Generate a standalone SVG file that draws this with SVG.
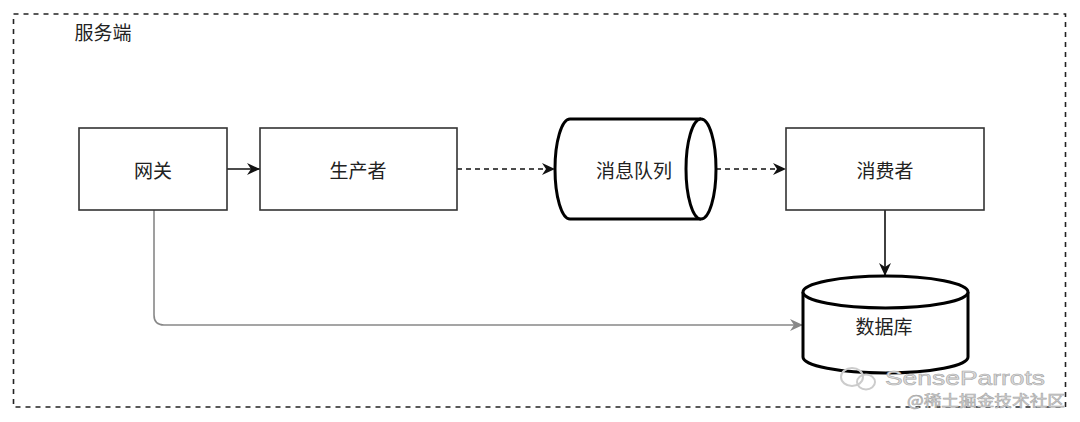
<svg xmlns="http://www.w3.org/2000/svg" width="1080" height="422" viewBox="0 0 1080 422">
  <style>
    .lbl { font-family: "Noto Sans CJK SC", "Liberation Sans", sans-serif; font-size: 19px; fill: #222; text-anchor: middle; dominant-baseline: central; }
    .box { fill: #fff; stroke: #333; stroke-width: 1.6; }
    .cyl { fill: #fff; stroke: #000; stroke-width: 3; }
    .edge { fill: none; stroke: #111; stroke-width: 1.6; }
    .dash { stroke-dasharray: 5 4; }
    .wm { font-family: "Liberation Sans", "Noto Sans CJK SC", sans-serif; fill: #dcdcdc; stroke: #a8a8a8; stroke-width: 0.6; }
  </style>
  <defs>
    <marker id="ah" markerUnits="userSpaceOnUse" markerWidth="14" markerHeight="12" refX="13" refY="6" orient="auto">
      <path d="M0,0 L13,6 L0,12 L4,6 Z" fill="#111"/>
    </marker>
    <marker id="ahg" markerUnits="userSpaceOnUse" markerWidth="14" markerHeight="12" refX="13" refY="6" orient="auto">
      <path d="M0,0 L13,6 L0,12 L4,6 Z" fill="#888"/>
    </marker>
  </defs>
  <rect width="1080" height="422" fill="#fff"/>

  <g id="server-frame">
    <rect x="13.5" y="14" width="1052" height="393" fill="none" stroke="#222" stroke-width="1.6" stroke-dasharray="5 5"/>
    <text x="103" y="31" class="lbl">服务端</text>
  </g>

  <g id="connectors">
    <line class="edge" x1="227" y1="169" x2="260" y2="169" marker-end="url(#ah)"/>
    <line class="edge dash" x1="457" y1="169" x2="555" y2="169" marker-end="url(#ah)"/>
    <line class="edge dash" x1="716" y1="169" x2="786" y2="169" marker-end="url(#ah)"/>
    <line class="edge" x1="885" y1="210" x2="885" y2="276" marker-end="url(#ah)"/>
    <path d="M154,210 L154,315 Q154,325 164,325 L803,325" fill="none" stroke="#888" stroke-width="1.6" marker-end="url(#ahg)"/>
  </g>

  <g id="gateway">
    <rect class="box" x="79" y="128" width="148" height="82"/>
    <text class="lbl" x="153" y="169">网关</text>
  </g>

  <g id="producer">
    <rect class="box" x="260" y="128" width="197" height="82"/>
    <text class="lbl" x="358" y="169">生产者</text>
  </g>

  <g id="queue">
    <path class="cyl" d="M701,119 L570,119 A15,50 0 0 0 570,219 L701,219"/>
    <ellipse class="cyl" cx="701" cy="169" rx="15" ry="50"/>
    <text class="lbl" x="634" y="169">消息队列</text>
  </g>

  <g id="consumer">
    <rect class="box" x="786" y="128" width="198" height="82"/>
    <text class="lbl" x="885" y="169">消费者</text>
  </g>

  <g id="database">
    <path class="cyl" d="M803,292 L803,357 A82.5,16 0 0 0 968,357 L968,292"/>
    <ellipse class="cyl" cx="885.5" cy="292" rx="82.5" ry="16"/>
    <text class="lbl" x="884" y="325">数据库</text>
  </g>

  <g id="watermark">
    <ellipse cx="852" cy="377" rx="11" ry="9" fill="none" stroke="#ccc" stroke-width="2"/>
    <ellipse cx="866" cy="382" rx="9" ry="7.5" fill="none" stroke="#ccc" stroke-width="2"/>
    <text class="wm" x="885" y="385" textLength="160" lengthAdjust="spacingAndGlyphs" style="font-size:21px">SenseParrots</text>
    <text class="wm" x="907" y="406" textLength="158" lengthAdjust="spacingAndGlyphs" style="font-size:15px; font-family:'Noto Sans CJK SC', sans-serif">@稀土掘金技术社区</text>
  </g>
</svg>
